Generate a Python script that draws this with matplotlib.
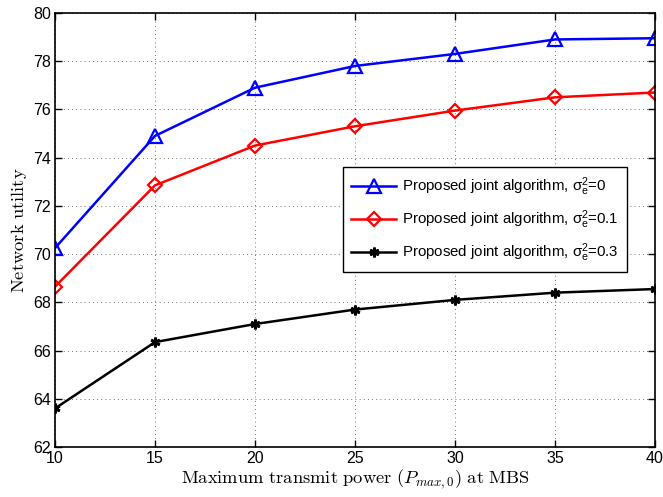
import numpy as np
import matplotlib
matplotlib.use("Agg")
import matplotlib.pyplot as plt
from matplotlib.font_manager import FontProperties

# data
power = [10, 15, 20, 25, 30, 35, 40]
util_s0 = [70.25, 74.9, 76.9, 77.8, 78.3, 78.9, 78.95]
util_s01 = [68.65, 72.85, 74.5, 75.3, 75.95, 76.5, 76.7]
util_s03 = [63.6, 66.35, 67.1, 67.7, 68.1, 68.4, 68.55]

labels = [r"Proposed joint algorithm, $\mathrm{σ}_\mathrm{e}^\mathrm{2}$=0",
          r"Proposed joint algorithm, $\mathrm{σ}_\mathrm{e}^\mathrm{2}$=0.1",
          r"Proposed joint algorithm, $\mathrm{σ}_\mathrm{e}^\mathrm{2}$=0.3"]

plt.rcParams['font.family'] = ['Liberation Sans', 'DejaVu Sans']
plt.rcParams['mathtext.fontset'] = 'custom'
plt.rcParams['mathtext.rm'] = 'Liberation Sans'
plt.rcParams['mathtext.it'] = 'Liberation Sans:italic'

fig = plt.figure(figsize=(6.63, 4.97), dpi=100)
ax = fig.add_axes([0.083, 0.1006, 0.905, 0.8734])

ax.plot(power, util_s0, color='blue', lw=1.8, marker='^', ms=9.5, mfc='none',
        mew=1.6, label=labels[0])
ax.plot(power, util_s01, color='red', lw=1.8, marker='D', ms=7, mfc='none',
        mew=1.6, label=labels[1])
ax.plot(power, util_s03, color='black', lw=1.8, marker=(6, 2, 0), ms=7,
        mew=2, label=labels[2])

ax.set_xlim(10, 40)
ax.set_ylim(62, 80)
ax.set_xticks(np.arange(10, 41, 5))
ax.set_yticks(np.arange(62, 81, 2))
ax.grid(True, color='#444444', linestyle=(0, (1, 4)), linewidth=0.6)
ax.tick_params(direction='in', length=5, width=1, labelsize=11.5, pad=3,
               top=True, right=True)
for s in ax.spines.values():
    s.set_linewidth(1.2)

ax.set_xlabel(r"$\mathrm{Maximum\ transmit\ power\ (}P_{max,0}\mathrm{)\ at\ MBS}$",
              fontsize=13.3, math_fontfamily='cm', labelpad=1)
ax.set_ylabel(r"$\mathrm{Network\ utility}$", fontsize=13.3, math_fontfamily='cm',
              labelpad=3)

leg = ax.legend(loc='upper left', bbox_to_anchor=(0.48, 0.645), borderaxespad=0,
                fancybox=False, framealpha=1, edgecolor='black',
                prop=FontProperties(family='Liberation Sans', size=10.8,
                                    math_fontfamily='custom'),
                handlelength=3.0, handletextpad=0.4, labelspacing=0.7,
                borderpad=0.55)
leg.get_frame().set_linewidth(1)

fig.savefig('out.png', dpi=100)
